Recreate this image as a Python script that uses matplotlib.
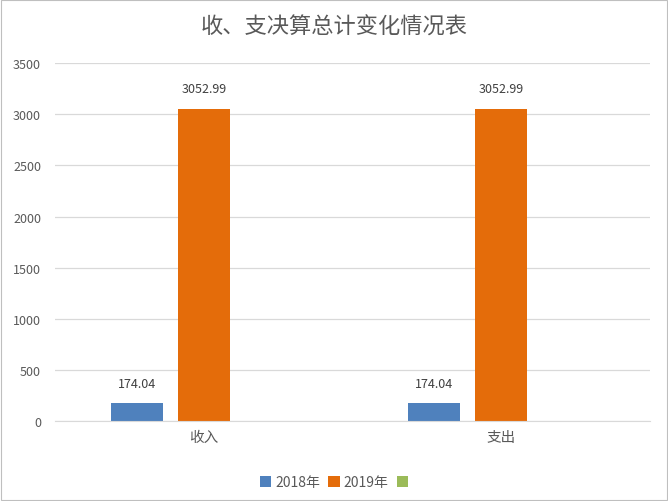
import numpy as np
import matplotlib
matplotlib.use('Agg')
import matplotlib.pyplot as plt
from matplotlib.patches import Rectangle

plt.rcParams['font.family'] = ['Noto Sans CJK SC', 'DejaVu Sans']

# data
categories = ['收入', '支出']
series_names = ['2018年', '2019年', ' ']
values_2018 = [174.04, 174.04]
values_2019 = [3052.99, 3052.99]
values_3 = [np.nan, np.nan]
colors = ['#4F81BD', '#E46C0A', '#9BBB59']

fig = plt.figure(figsize=(6.68, 5.02), dpi=100)
ax = fig.add_axes([0.0823, 0.159, 0.8907, 0.7135])

x = np.arange(len(categories))
width = 0.175
step = 0.225
text_col = '#595959'

all_vals = [values_2018, values_2019, values_3]
for i, (vals, name, col) in enumerate(zip(all_vals, series_names, colors)):
    pos = x + (i - 1) * step
    bars = ax.bar(pos, np.nan_to_num(vals), width, color=col, label=name)
    for p, v in zip(pos, vals):
        if not np.isnan(v):
            ax.text(p, v + 130, f'{v:.2f}', ha='center', va='bottom',
                    fontsize=9, color='#404040')

ax.set_xlim(-0.5, 1.5)
ax.set_ylim(0, 3500)
ax.set_yticks(np.arange(0, 3501, 500))
ax.set_xticks(x)
ax.set_xticklabels(categories, fontsize=10.5, color=text_col)
ax.tick_params(axis='y', labelsize=9, colors=text_col, length=0, pad=10)
ax.tick_params(axis='x', length=0, pad=6)
ax.yaxis.grid(True, color='#D9D9D9', linewidth=0.9)
ax.set_axisbelow(True)
for s in ['top', 'right', 'left']:
    ax.spines[s].set_visible(False)
ax.spines['bottom'].set_color('#D9D9D9')

fig.suptitle('收、支决算总计变化情况表', y=0.968, fontsize=16, color=text_col)

ax.legend(loc='center', bbox_to_anchor=(0.475, -0.17), ncol=3, frameon=False,
          fontsize=10, handlelength=0.8, handleheight=0.8, columnspacing=0.6,
          handletextpad=0.3, labelcolor=text_col)

fig.patches.append(Rectangle((0.001, 0.001), 0.997, 0.997, transform=fig.transFigure,
                             fill=False, edgecolor='#BFBFBF', linewidth=0.8))

fig.savefig('out.png', dpi=100)
